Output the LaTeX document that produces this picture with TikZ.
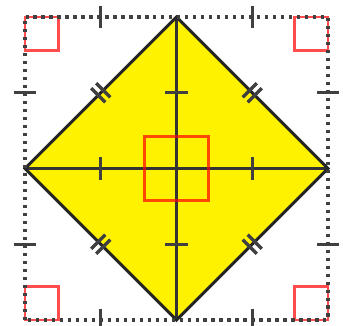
\documentclass[tikz,border=0pt]{standalone}
\usepackage{tikz}
\usetikzlibrary{calc}
\begin{document}
\begin{tikzpicture}[
  x=1.5cm, y=1.5cm,
  frame/.style={line width=1.9pt, black!75, dash pattern=on 1.8pt off 2.7pt},
  sideline/.style={line width=1.7pt, black!85},
  crossline/.style={line width=1.5pt, black!80},
  tickmark/.style={line width=1.9pt, black!75},
  rsq/.style={line width=1.6pt, draw=red, draw opacity=0.7},
]
\useasboundingbox (-0.330,-0.079) rectangle (4.198,4.224);

% --- Outer square and diamond corners ---
\coordinate (sw) at (0,0);
\coordinate (ne) at (4,4);
\coordinate (top) at (2,4);
\coordinate (left) at (0,2);
\coordinate (right) at (4,2);
\coordinate (bot) at (2,0);
\coordinate (mid) at (2,2);

% --- Yellow diamond ---
\fill[yellow] (top) -- (right) -- (bot) -- (left) -- cycle;

% --- Diagonals of the diamond ---
\draw[crossline] (left) -- (right);
\draw[crossline] (top) -- (bot);

% --- Right angle at the centre ---
\draw[rsq] ($(mid)+(-0.42,-0.42)$) rectangle ($(mid)+(0.42,0.42)$);

\draw[sideline] (top) -- (right) -- (bot) -- (left) -- cycle;

% --- Single ticks on the halves ---
\foreach \t in {1,3} {
  \draw[tickmark] (\t,2.15) -- (\t,1.85);
  \draw[tickmark] (1.85,\t) -- (2.15,\t);
  \draw[tickmark] (\t,4.15) -- (\t,3.85);
  \draw[tickmark] (\t,0.15) -- (\t,-0.15);
  \draw[tickmark] (-0.15,\t) -- (0.15,\t);
  \draw[tickmark] (3.85,\t) -- (4.15,\t);
}

% --- Double ticks on the sides of the diamond ---
\foreach \mx/\my/\s in {1/3/1, 3/3/-1, 3/1/1, 1/1/-1}
  \foreach \d in {-1,1}
    \draw[tickmark, shift={(\mx+0.033*\d,\my+0.033*\s*\d)}]
      (-0.093,0.093*\s) -- (0.093,-0.093*\s);

% --- Right angles at the corners ---
\draw[rsq] (0,0) rectangle (0.44,0.44);
\draw[rsq] (4,0) rectangle (3.56,0.44);
\draw[rsq] (0,4) rectangle (0.44,3.56);
\draw[rsq] (4,4) rectangle (3.56,3.56);

% --- Dotted square ---
\draw[frame] (sw) rectangle (ne);
\end{tikzpicture}
\end{document}
